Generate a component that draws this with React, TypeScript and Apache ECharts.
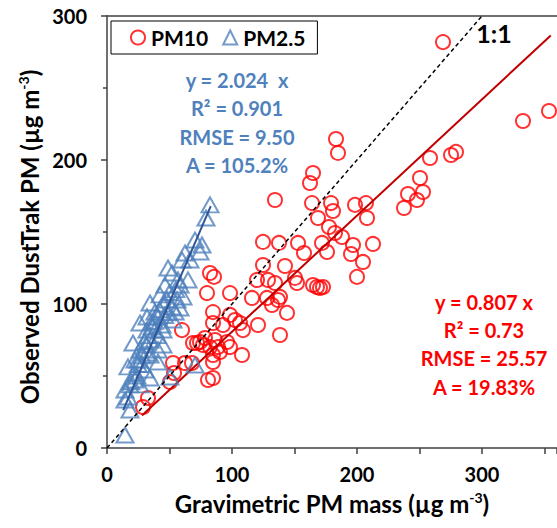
import React, { useEffect, useRef } from "react";
import * as echarts from "echarts";

// PM10: gravimetric (x) vs DustTrak (y)
const pm10X = [268.8, 332.8, 353.6, 275.2, 279.2, 258.4, 250.4, 252.8, 240.8, 248.0, 237.6, 183.2, 184.8, 164.8, 162.4, 134.4, 164.0, 168.8, 179.2, 180.8, 198.4, 207.2, 177.6, 208.0, 182.4, 188.0, 152.8, 172.0, 196.8, 212.8, 157.6, 176.0, 195.2, 204.8, 142.4, 150.4, 200.0, 164.8, 168.0, 170.4, 172.8, 138.4, 144.0, 138.4, 124.8, 137.6, 82.4, 85.6, 124.8, 120.0, 128.8, 134.4, 152.0, 80.0, 98.4, 116.0, 128.0, 132.0, 136.8, 84.8, 84.8, 98.4, 102.4, 106.4, 92.8, 120.8, 72.0, 76.8, 82.4, 86.4, 88.8, 98.4, 84.8, 108.0, 84.8, 84.8, 60.0, 68.8, 96.0, 108.8, 68.0, 52.8, 62.4, 53.6, 50.4, 32.8, 28.8, 80.8, 90.4, 74.4, 78.4];
const pm10Y = [281.9, 227.1, 234.0, 203.5, 205.6, 201.4, 187.5, 177.8, 176.4, 172.2, 166.7, 214.6, 204.9, 191.0, 184.0, 172.2, 170.1, 159.7, 170.1, 164.6, 168.8, 170.1, 153.5, 159.7, 149.3, 146.5, 142.4, 142.4, 141.0, 141.7, 135.4, 136.1, 134.7, 129.2, 126.4, 118.1, 118.8, 113.2, 111.8, 111.1, 111.8, 104.9, 93.8, 78.5, 143.1, 142.4, 121.5, 118.8, 127.1, 116.7, 116.7, 114.6, 114.6, 107.6, 107.6, 104.2, 104.2, 99.3, 102.8, 94.4, 86.8, 92.4, 88.9, 86.8, 85.4, 85.4, 72.9, 71.5, 70.1, 75.0, 70.1, 70.1, 64.6, 64.6, 59.7, 48.6, 81.9, 72.9, 73.6, 81.9, 59.0, 59.0, 59.0, 52.1, 45.8, 34.7, 28.5, 47.2, 66.7, 73.6, 76.4];

// PM2.5: gravimetric (x) vs DustTrak (y)
const pm25X = [82.4, 79.2, 74.4, 62.4, 60.0, 52.0, 64.8, 56.8, 48.8, 42.4, 48.0, 56.0, 60.8, 58.4, 34.4, 40.8, 32.0, 52.8, 26.4, 32.0, 48.0, 54.4, 20.8, 26.4, 31.2, 40.8, 40.8, 16.8, 22.4, 50.4, 70.4, 14.4, 16.8, 18.4, 14.4, 34.4, 38.4, 44.8, 34.4, 24.8, 30.4, 22.4, 18.4, 26.4, 34.4, 14.4, 44.8, 36.0, 46.4, 66.4, 70.4, 58.4, 44.0, 38.4, 76.0, 22.0, 25.0, 28.0, 30.0, 33.0, 36.0, 38.0, 42.0, 45.0, 50.0, 55.0, 28.0, 32.0, 40.0, 46.0, 52.0, 19.0, 24.0];
const pm25Y = [168.8, 159.7, 136.1, 135.4, 130.6, 121.5, 116.7, 116.7, 125.0, 106.3, 102.8, 102.8, 104.9, 97.2, 100.7, 91.0, 91.0, 88.9, 86.8, 81.9, 93.8, 94.4, 72.9, 68.1, 71.5, 68.1, 59.7, 56.3, 61.1, 49.3, 57.6, 33.3, 35.4, 26.4, 9.0, 75.0, 81.9, 81.9, 64.6, 61.1, 54.2, 47.2, 43.8, 43.8, 48.6, 40.3, 71.5, 87.5, 113.2, 130.6, 144.4, 113.2, 85.4, 94.4, 141.0, 52.0, 58.0, 64.0, 74.0, 78.0, 84.0, 88.0, 96.0, 100.0, 108.0, 110.0, 58.0, 66.0, 78.0, 92.0, 98.0, 46.0, 50.0];

const xTicks = [0, 100, 200, 300];
const yTicks = [0, 100, 200, 300];
const pm10Slope = 0.807;
const pm25Slope = 2.024;
const pm10FitRange = [28, 355];
const pm25FitRange = [13, 83];
const oneToOneRange = [0, 300];
const pm25Stats = ["y = 2.024  x", "R\u00B2 = 0.901", "RMSE = 9.50", "A = 105.2%"];
const pm10Stats = ["y = 0.807 x", "R\u00B2 = 0.73", "RMSE = 25.57", "A = 19.83%"];

const FONT = "Lato";
const RED = "#FF0000";
const BLUE = "#4F81BD";

export default function App() {
  const ref = useRef<HTMLDivElement>(null);
  useEffect(() => {
    if (!ref.current) return;
    const chart = echarts.init(ref.current, undefined, { renderer: "svg" });
    const supRich = {
      sup: { fontSize: 14, fontWeight: "bold", fontFamily: FONT, color: "#000", verticalAlign: "top", padding: [0, 0, 12, 0] },
      base: { fontSize: 24, fontWeight: "bold", fontFamily: FONT, color: "#000" },
    };
    const statText = (lines: string[], cx: number, ys: number[], color: string) =>
      lines.map((t, i) => ({
        type: "text",
        x: cx,
        y: ys[i],
        z: 100,
        style: {
          text: t,
          fill: color,
          fontSize: 20,
          fontWeight: "bold",
          fontFamily: FONT,
          align: "center",
          verticalAlign: "middle",
        },
      }));
    chart.setOption({
      animation: false,
      grid: { left: 107, top: 16, right: 0, bottom: 80, containLabel: false },
      legend: {
        data: [
          { name: "PM10", icon: "circle", itemStyle: { color: "rgba(0,0,0,0)", borderColor: RED, borderWidth: 2 } },
          { name: "PM2.5", icon: "triangle", itemStyle: { color: "rgba(0,0,0,0)", borderColor: BLUE, borderWidth: 2 } },
        ],
        left: 111,
        top: 21,
        orient: "horizontal",
        borderColor: "#000",
        borderWidth: 1,
        padding: [6, 12, 6, 19],
        itemGap: 14,
        itemWidth: 14,
        itemHeight: 14,
        textStyle: { fontSize: 21, fontWeight: "bold", fontFamily: FONT, color: "#000", padding: [0, 0, 0, 1] },
      },
      xAxis: [
        {
          type: "value",
          min: 0,
          max: 360,
          interval: 100,
          position: "bottom",
          axisLine: { show: true, onZero: false, lineStyle: { color: "#404040", width: 1.5 } },
          axisTick: { show: true, length: 6, lineStyle: { color: "#404040", width: 1.5 } },
          minorTick: { show: true, splitNumber: 2, length: 6, lineStyle: { color: "#404040", width: 1.5 } },
          splitLine: { show: false },
          axisLabel: {
            fontSize: 20,
            fontWeight: "bold",
            fontFamily: FONT,
            color: "#000",
            margin: 16,
            showMaxLabel: false,
            formatter: (v: number) => (xTicks.includes(v) ? String(v) : ""),
          },
          name: "{base|Gravimetric PM mass (\u00B5g m}{sup|-3}{base|)}",
          nameLocation: "middle",
          nameGap: 42,
          nameTextStyle: { fontSize: 24, fontWeight: "bold", fontFamily: FONT, color: "#000", rich: supRich },
        },
        {
          type: "value",
          min: 0,
          max: 360,
          position: "top",
          axisLine: { show: true, onZero: false, lineStyle: { color: "#404040", width: 1.5 } },
          axisTick: { show: false },
          axisLabel: { show: false },
          splitLine: { show: false },
        },
      ],
      yAxis: {
        type: "value",
        min: 0,
        max: 300,
        interval: 100,
        axisLine: { show: true, onZero: false, lineStyle: { color: "#404040", width: 1.5 } },
        axisTick: { show: true, length: 6, lineStyle: { color: "#404040", width: 1.5 } },
        minorTick: { show: true, splitNumber: 2, length: 4, lineStyle: { color: "#404040", width: 1.5 } },
        splitLine: { show: false },
        axisLabel: {
          fontSize: 20,
          fontWeight: "bold",
          fontFamily: FONT,
          color: "#000",
          margin: 20,
          formatter: (v: number) => (yTicks.includes(v) ? String(v) : ""),
        },
        name: "{base|Observed DustTrak PM (\u00B5g m}{sup|-3}{base|)}",
        nameLocation: "middle",
        nameRotate: 90,
        nameGap: 62,
        nameTextStyle: { fontSize: 24, fontWeight: "bold", fontFamily: FONT, color: "#000", rich: supRich, padding: [0, 10, 0, 0] },
      },
      series: [
        {
          name: "PM10",
          type: "scatter",
          symbol: "circle",
          symbolSize: 14,
          z: 2,
          itemStyle: { color: "rgba(0,0,0,0)", borderColor: RED, borderWidth: 2 },
          data: pm10X.map((x, i) => [x, pm10Y[i]]),
        },
        {
          name: "PM10 fit",
          type: "line",
          symbol: "none",
          z: 3,
          lineStyle: { color: "#C00000", width: 2 },
          data: pm10FitRange.map((x) => [x, x * pm10Slope]),
        },
        {
          name: "PM2.5",
          type: "scatter",
          symbol: "triangle",
          symbolSize: [17, 15],
          z: 4,
          itemStyle: { color: "rgba(0,0,0,0)", borderColor: BLUE, borderWidth: 2 },
          data: pm25X.map((x, i) => [x, pm25Y[i]]),
        },
        {
          name: "PM2.5 fit",
          type: "line",
          symbol: "none",
          z: 5,
          lineStyle: { color: "#2F5597", width: 2 },
          data: pm25FitRange.map((x) => [x, x * pm25Slope]),
        },
        {
          name: "1:1",
          type: "line",
          symbol: "none",
          z: 6,
          lineStyle: { color: "#000", width: 1.5, type: [4, 3] },
          data: oneToOneRange.map((x) => [x, x]),
        },
      ],
      graphic: [
        ...statText(pm25Stats, 237, [80, 108, 137, 165], BLUE),
        ...statText(pm10Stats, 484, [302, 330, 358, 387], RED),
        {
          type: "text",
          x: 494,
          y: 33,
          z: 100,
          style: { text: "1:1", fill: "#000", fontSize: 25, fontWeight: "bold", fontFamily: FONT, align: "center", verticalAlign: "middle" },
        },
      ],
    });
    return () => chart.dispose();
  }, []);
  return <div ref={ref} style={{ width: 557, height: 528, position: "absolute", left: 0, top: 0 }} />;
}
